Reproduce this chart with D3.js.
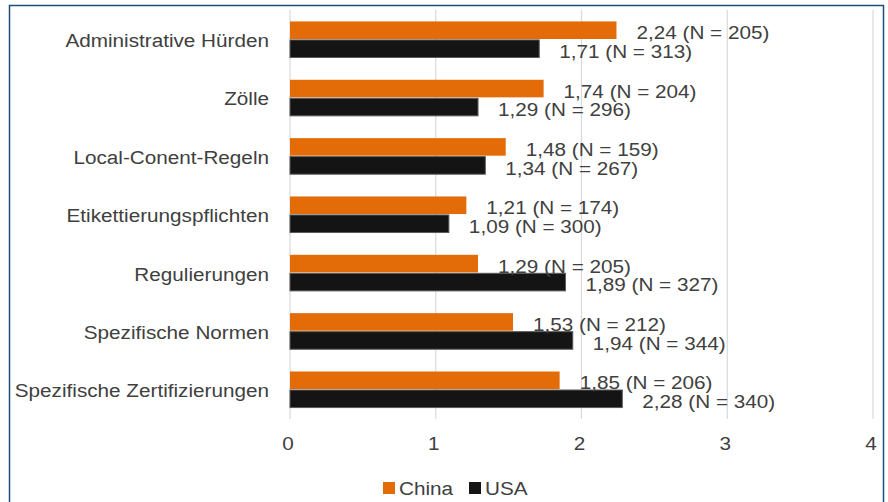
<!DOCTYPE html>
<html>
<head>
<meta charset="utf-8">
<script src="https://cdn.jsdelivr.net/npm/d3@7"></script>
<style>
  body { margin: 0; background: #fff; }
  svg text { font-family: "Liberation Sans", Arial, sans-serif; fill: #404040; font-size: 19px; }
</style>
</head>
<body>
<div id="chart"></div>
<script>
// Data
const categories = ["Administrative Hürden", "Zölle", "Local-Conent-Regeln", "Etikettierungspflichten",
  "Regulierungen", "Spezifische Normen", "Spezifische Zertifizierungen"];
const chinaValues = [2.24, 1.74, 1.48, 1.21, 1.29, 1.53, 1.85];
const chinaN = [205, 204, 159, 174, 205, 212, 206];
const usaValues = [1.71, 1.29, 1.34, 1.09, 1.89, 1.94, 2.28];
const usaN = [313, 296, 267, 300, 327, 344, 340];
const xTicks = [0, 1, 2, 3, 4];
const seriesNames = ["China", "USA"];
const seriesColors = ["#e36c09", "#141414"];

const W = 888, H = 502;
const margin = { top: 10, left: 290 };
const width = 873 - margin.left;
const height = 419 - margin.top;
const SX = 1.09; // the source text is a little wider than Liberation Sans

const svg = d3.select("#chart").append("svg")
  .attr("width", W).attr("height", H);

// outer frame
svg.append("rect")
  .attr("x", 9.5).attr("y", 5.5)
  .attr("width", 874).attr("height", 510)
  .attr("fill", "none").attr("stroke", "#1f4e79").attr("stroke-width", 1.5);

const g = svg.append("g").attr("transform", `translate(${margin.left},${margin.top})`);

const x = d3.scaleLinear().domain([0, 4]).range([0, width]);
const y = d3.scaleBand().domain(categories).range([0, height]).paddingInner(0.35).paddingOuter(0.18);
const sub = d3.scaleBand().domain(seriesNames).range([0, y.bandwidth()]).padding(0.05);

// stretched text helper
function label(sel, tx, ty) {
  return sel.attr("transform", (d, i) => `translate(${tx(d, i)},${ty(d, i)}) scale(${SX},1)`)
    .attr("dy", "0.35em");
}

// gridlines
g.append("g").selectAll("line")
  .data(xTicks)
  .enter().append("line")
  .attr("x1", d => x(d)).attr("x2", d => x(d))
  .attr("y1", 0).attr("y2", height)
  .attr("stroke", "#d9d9d9").attr("stroke-width", 1.2);

// x tick labels
g.append("g").selectAll("text")
  .data(xTicks)
  .enter().append("text")
  .attr("text-anchor", "middle")
  .call(label, d => x(d) - 2, () => height + 24)
  .text(d => d);

// category labels
g.append("g").selectAll("text")
  .data(categories)
  .enter().append("text")
  .attr("text-anchor", "end")
  .call(label, () => -21, d => y(d) + y.bandwidth() / 2 + 1)
  .text(d => d);

const fmt = v => d3.format(".2f")(v).replace(".", ",");

const rows = categories.map((c, i) => ({
  cat: c,
  series: [
    { name: "China", value: chinaValues[i], n: chinaN[i] },
    { name: "USA", value: usaValues[i], n: usaN[i] }
  ]
}));

const groups = g.selectAll(".grp")
  .data(rows)
  .enter().append("g")
  .attr("class", "grp")
  .attr("transform", d => `translate(0,${y(d.cat)})`);

groups.selectAll("rect")
  .data(d => d.series)
  .enter().append("rect")
  .attr("x", x(0))
  .attr("y", d => sub(d.name))
  .attr("width", d => x(d.value) - x(0))
  .attr("height", sub.bandwidth())
  .attr("fill", (d, i) => seriesColors[i])
  .attr("stroke", (d, i) => i === 1 ? "#5a5a5a" : "none")
  .attr("stroke-width", 1);

groups.selectAll("text.val")
  .data(d => d.series)
  .enter().append("text")
  .attr("class", "val")
  .call(label, d => x(d.value) + 20, d => sub(d.name) + sub.bandwidth() / 2 + 2.5)
  .text(d => `${fmt(d.value)} (N = ${d.n})`);

// legend
const legend = svg.append("g").attr("transform", "translate(383,488)");
const items = legend.selectAll("g")
  .data(seriesNames)
  .enter().append("g")
  .attr("transform", (d, i) => `translate(${i * 86},0)`);
items.append("rect")
  .attr("x", 0).attr("y", -6)
  .attr("width", 12).attr("height", 12)
  .attr("fill", (d, i) => seriesColors[i]);
items.append("text")
  .call(label, () => 16, () => 0)
  .text(d => d);
</script>
</body>
</html>
